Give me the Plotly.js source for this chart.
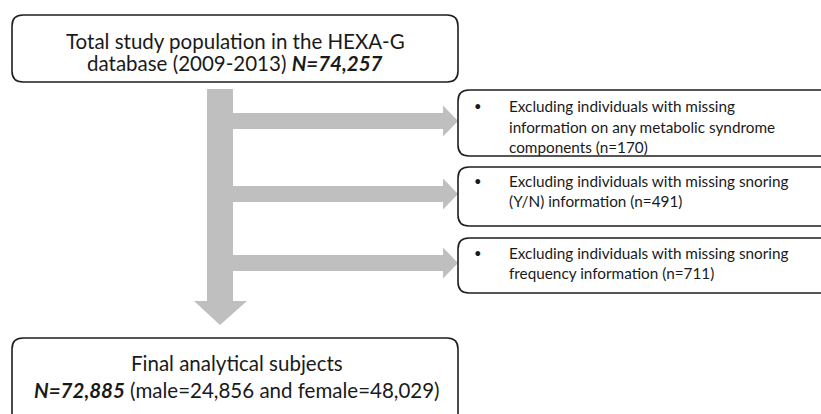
<!DOCTYPE html>
<html><head><meta charset="utf-8">
<script src="https://cdn.plot.ly/plotly-3.0.1.min.js"></script>
<style>html,body{margin:0;padding:0;background:#fff;}#chart{width:821px;height:414px;}</style>
</head><body><div id="chart"></div>
<script>
// ---- data ----
const studyName = "HEXA-G";
const studyYears = "2009-2013";
const totalN = 74257;
const exclusionLabels = [
  ["Excluding individuals with missing", "information on any metabolic syndrome", "components"],
  ["Excluding individuals with missing snoring", "(Y/N) information"],
  ["Excluding individuals with missing snoring", "frequency information"]
];
const exclusionCounts = [170, 491, 711];
const finalLabel = "Final analytical subjects";
const finalN = 72885;
const maleN = 24856;
const femaleN = 48029;

// ---- layout helpers ----
const fmt = v => v.toLocaleString('en-US');
const FONT = "Lato, 'Open Sans', sans-serif";
const boxLine = {color: '#1e1e1e', width: 1.6};
const arrowFill = '#bfbfbf';

function roundRect(x0, y0, x1, y1, r) {
  return `M${x0+r},${y0} L${x1-r},${y0} Q${x1},${y0} ${x1},${y0+r} L${x1},${y1-r} Q${x1},${y1} ${x1-r},${y1} ` +
         `L${x0+r},${y1} Q${x0},${y1} ${x0},${y1-r} L${x0},${y0+r} Q${x0},${y0} ${x0+r},${y0} Z`;
}

const shapes = [];
const annotations = [];

// top box
shapes.push({type:'path', xref:'x', yref:'y', path: roundRect(12, 15, 458, 82, 11), line: boxLine, fillcolor:'rgba(0,0,0,0)'});
const topLines = [`Total study population in the ${studyName}`,
                  `database (${studyYears}) <b><i>N=${fmt(totalN)}</i></b>`];
[40.5, 63].forEach((y, i) => annotations.push({x: 235, y: y, xref:'x', yref:'y', text: topLines[i], showarrow:false,
  xanchor:'center', yanchor:'middle', font:{family: FONT, size: 20.5, color:'#1a1a1a'}}));

// vertical arrow (shaft + head)
shapes.push({type:'path', xref:'x', yref:'y', layer:'below',
  path: 'M207,89 L233,89 L233,301 L247,301 L220,325 L194,301 L207,301 Z',
  fillcolor: arrowFill, line:{width:0}});

// exclusion boxes and horizontal arrows
const boxTops = [90, 167, 238];
const boxBottoms = [156, 226, 293];
const lineYs = [[106, 126.5, 146.5], [180.5, 201], [252.5, 273]];
exclusionCounts.forEach((n, k) => {
  const t = boxTops[k], b = boxBottoms[k];
  const c = k === 0 ? 121 : (k === 1 ? 194 : 263);
  shapes.push({type:'path', xref:'x', yref:'y', path: roundRect(458, t, 840, b, 11), line: boxLine, fillcolor:'rgba(0,0,0,0)'});
  shapes.push({type:'path', xref:'x', yref:'y', layer:'below',
    path: `M233,${c-8} L443,${c-8} L443,${c-15.5} L458,${c} L443,${c+15.5} L443,${c+8} L233,${c+8} Z`,
    fillcolor: arrowFill, line:{width:0}});
  const lines = exclusionLabels[k].slice();
  lines[lines.length-1] = lines[lines.length-1] + ` (n=${fmt(n)})`;
  annotations.push({x: 478, y: lineYs[k][0], xref:'x', yref:'y', text:'•', showarrow:false,
    xanchor:'center', yanchor:'middle', font:{family: FONT, size: 13, color:'#1a1a1a'}});
  lines.forEach((s, i) => annotations.push({x: 507, y: lineYs[k][i], xref:'x', yref:'y', text: s, showarrow:false,
    xanchor:'left', yanchor:'middle', font:{family: FONT, size: 15.3, color:'#1a1a1a'}}));
});

// final box
shapes.push({type:'path', xref:'x', yref:'y', path: roundRect(12, 338, 458, 430, 11), line: boxLine, fillcolor:'rgba(0,0,0,0)'});
const finalLines = [finalLabel,
  `<b><i>N=${fmt(finalN)}</i></b> (male=${fmt(maleN)} and female=${fmt(femaleN)})`];
[363, 390].forEach((y, i) => annotations.push({x: 237, y: y, xref:'x', yref:'y', text: finalLines[i], showarrow:false,
  xanchor:'center', yanchor:'middle', font:{family: FONT, size: 20.5, color:'#1a1a1a'}}));

const layout = {
  width: 821, height: 414,
  margin: {l:0, r:0, t:0, b:0},
  paper_bgcolor: '#ffffff', plot_bgcolor: '#ffffff',
  xaxis: {range: [0, 821], visible: false, fixedrange: true},
  yaxis: {range: [414, 0], visible: false, fixedrange: true},
  showlegend: false,
  shapes: shapes,
  annotations: annotations
};
Plotly.newPlot('chart', [], layout, {staticPlot: true, displayModeBar: false});
</script></body></html>
